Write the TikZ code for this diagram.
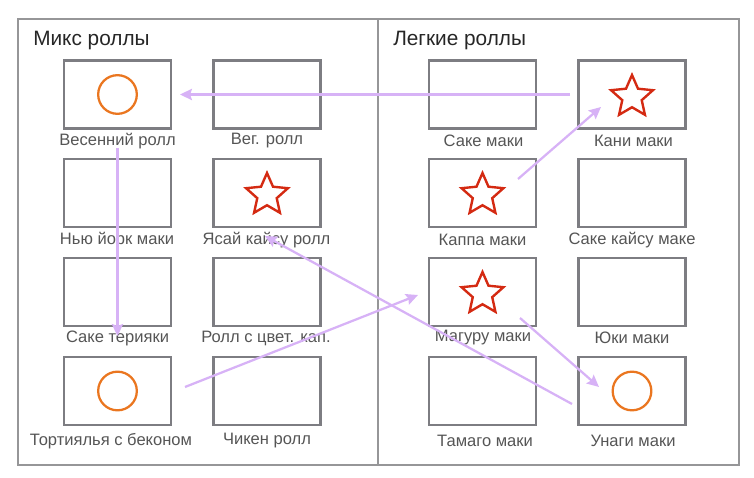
\documentclass[tikz,border=0pt]{standalone}
\usepackage{fontspec}
\setmainfont{Liberation Sans}
\usetikzlibrary{arrows.meta}
\usetikzlibrary{shapes.geometric}

\definecolor{boxgray}{RGB}{125,125,130}
\definecolor{framegray}{RGB}{150,150,152}
\definecolor{lilac}{RGB}{215,178,246}
\definecolor{rollorange}{RGB}{234,118,32}
\definecolor{starred}{RGB}{212,42,18}
\definecolor{labelgray}{RGB}{85,85,85}

\begin{document}
\begin{tikzpicture}[x=0.75pt,y=0.75pt,yscale=-1,xscale=1,
  rollbox/.style={draw=boxgray,line width=1.7pt,minimum width=80.25pt,minimum height=51pt,inner sep=0pt},
  rolllabel/.style={text=labelgray,inner sep=0.75pt,font=\fontsize{12.4}{14}\selectfont},
  paneltitle/.style={text=black!85,inner sep=0.75pt,anchor=west,font=\fontsize{15.6}{18}\selectfont},
  ringmark/.style={circle,draw=rollorange,line width=1.7pt,minimum size=29pt,inner sep=0pt},
  starmark/.style={star,star points=5,star point ratio=2.15,draw=starred,line width=1.8pt,minimum size=33pt,inner sep=0pt},
  moveto/.style={draw=lilac,line width=1.7pt,-{Stealth[length=9pt,width=8.5pt,inset=1.5pt]}}
]
\useasboundingbox (0,0) rectangle (754,478);

%Shape: Rectangle [id:outer frame]
\draw [framegray,line width=1.3pt] (18,19) rectangle (739,465) ;
%Straight Lines [id:divider]
\draw [framegray,line width=1.3pt] (378,19) -- (378,465) ;

% Text Node
\node [paneltitle] (mixtitle) at (32,41) {Микс роллы};
% Text Node
\node [paneltitle] (lighttitle) at (392,41) {Легкие роллы};

%Shape: Rectangle [id:mix column 1]
\node [rollbox] (vesen) at (117.5,94.5) {};
\node [rollbox] (newyork) at (117.5,193) {};
\node [rollbox] (saketeri) at (117.5,292) {};
\node [rollbox] (tortilla) at (117.5,391) {};
%Shape: Rectangle [id:mix column 2]
\node [rollbox] (veg) at (267,94.5) {};
\node [rollbox] (yasai) at (267,193) {};
\node [rollbox] (tsvet) at (267,292) {};
\node [rollbox] (chicken) at (267,391) {};
%Shape: Rectangle [id:light column 1]
\node [rollbox] (sake) at (482.5,94.5) {};
\node [rollbox] (kappa) at (482.5,193) {};
\node [rollbox] (maguro) at (482.5,292) {};
\node [rollbox] (tamago) at (482.5,391) {};
%Shape: Rectangle [id:light column 2]
\node [rollbox] (kani) at (632,94.5) {};
\node [rollbox] (sakekaisu) at (632,193) {};
\node [rollbox] (yuki) at (632,292) {};
\node [rollbox] (unagi) at (632,391) {};

%Shape: Circle
\node [ringmark] (vesenring) at (vesen) {};
\node [ringmark] (tortillaring) at (tortilla) {};
\node [ringmark] (unagiring) at (unagi) {};
%Shape: Star
\node [starmark] (yasaistar) at (267,195) {};
\node [starmark] (kanistar) at (632,97) {};
\node [starmark] (kappastar) at (482.5,195) {};
\node [starmark] (magurostar) at (482.5,294) {};

% Text Node
\node [rolllabel] (vesenlbl) at (117.5,141) {Весенний ролл};
% Text Node
\node [rolllabel] (veglbl) at (267,141) {Вег. ролл};
% Text Node
\node [rolllabel] (sakelbl) at (483.5,141) {Саке маки};
% Text Node
\node [rolllabel] (kanilbl) at (633.5,141) {Кани маки};
% Text Node
\node [rolllabel] (newyorklbl) at (117,240) {Нью йорк маки};
% Text Node
\node [rolllabel] (yasailbl) at (266.5,240) {Ясай кайсу ролл};
% Text Node
\node [rolllabel] (kappalbl) at (482.5,240) {Каппа маки};
% Text Node
\node [rolllabel] (sakekaisulbl) at (632,240) {Саке кайсу маке};
% Text Node
\node [rolllabel] (saketerilbl) at (117.5,338) {Саке терияки};
% Text Node
\node [rolllabel] (tsvetlbl) at (266,338) {Ролл с цвет. кап.};
% Text Node
\node [rolllabel] (magurolbl) at (483,338) {Магуру маки};
% Text Node
\node [rolllabel] (yukilbl) at (632,338) {Юки маки};
% Text Node
\node [rolllabel] (tortillalbl) at (111,441) {Тортиялья с беконом};
% Text Node
\node [rolllabel] (chickenlbl) at (267,441) {Чикен ролл};
% Text Node
\node [rolllabel] (tamagolbl) at (485,441) {Тамаго маки};
% Text Node
\node [rolllabel] (unagilbl) at (633,441) {Унаги маки};

% arrow ends
\coordinate (kaniout) at (570,94.5);
\coordinate (vesenin) at (180,94.5);
\coordinate (vesenout) at (117.5,148);
\coordinate (saketeriin) at (117.5,336);
\coordinate (tortillaout) at (185,387);
\coordinate (maguroin) at (418,295);
\coordinate (unagiout) at (572,404);
\coordinate (yasaiin) at (265,236);
\coordinate (magurout) at (520,318);
\coordinate (unagiin) at (599,387);
\coordinate (kappaout) at (518,179);
\coordinate (kaniin) at (601,107);

%Straight Lines
\draw [moveto] (kaniout) -- (vesenin) ;
\draw [moveto] (vesenout) -- (saketeriin) ;
\draw [moveto] (tortillaout) -- (maguroin) ;
\draw [moveto] (unagiout) -- (yasaiin) ;
\draw [moveto] (magurout) -- (unagiin) ;
\draw [moveto] (kappaout) -- (kaniin) ;

\end{tikzpicture}
\end{document}
